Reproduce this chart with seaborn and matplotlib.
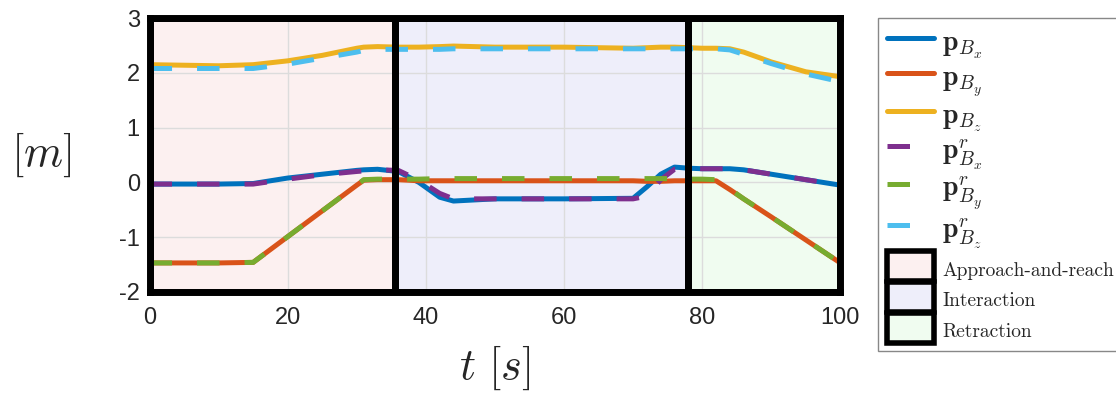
import numpy as np
import pandas as pd
import matplotlib
matplotlib.use("Agg")
import matplotlib.pyplot as plt
import matplotlib.patches as mpatches
import seaborn as sns

# time stamps [s]
t = [0, 5, 10, 15, 20, 25, 30, 31, 33, 36, 39, 42, 44, 50, 60, 70, 72, 74, 76, 78, 80, 82, 84, 86, 90, 95, 100]

# measured base position
p_bx = [-0.03, -0.03, -0.03, -0.02, 0.08, 0.15, 0.22, 0.23, 0.24, 0.20, 0.00, -0.27, -0.34, -0.30, -0.30, -0.29,
        -0.08, 0.15, 0.28, 0.26, 0.25, 0.25, 0.25, 0.23, 0.15, 0.05, -0.05]
p_by = [-1.47, -1.47, -1.47, -1.46, -0.99, -0.52, -0.05, 0.04, 0.05, 0.05, 0.03, 0.03, 0.03, 0.03, 0.03, 0.03,
        0.02, 0.02, 0.03, 0.03, 0.03, 0.03, -0.13, -0.30, -0.63, -1.05, -1.47]
p_bz = [2.15, 2.14, 2.13, 2.15, 2.22, 2.32, 2.45, 2.47, 2.48, 2.47, 2.47, 2.48, 2.49, 2.47, 2.47, 2.45,
        2.46, 2.47, 2.47, 2.46, 2.45, 2.45, 2.44, 2.38, 2.20, 2.02, 1.93]

# reference base position
p_bx_r = [-0.03, -0.03, -0.03, -0.03, 0.06, 0.14, 0.20, 0.21, 0.23, 0.22, 0.04, -0.20, -0.30, -0.30, -0.30, -0.30,
          -0.25, 0.05, 0.24, 0.26, 0.25, 0.25, 0.25, 0.23, 0.15, 0.05, -0.05]
p_by_r = [-1.47, -1.47, -1.47, -1.46, -0.99, -0.52, -0.05, 0.05, 0.06, 0.06, 0.06, 0.07, 0.07, 0.07, 0.07, 0.07,
          0.07, 0.07, 0.07, 0.06, 0.06, 0.05, -0.12, -0.30, -0.63, -1.05, -1.47]
p_bz_r = [2.08, 2.08, 2.08, 2.08, 2.16, 2.27, 2.38, 2.41, 2.43, 2.43, 2.43, 2.43, 2.44, 2.44, 2.44, 2.44,
          2.44, 2.44, 2.44, 2.44, 2.44, 2.44, 2.42, 2.34, 2.17, 1.98, 1.84]

# task phases
phase_names = ["Approach-and-reach", "Interaction", "Retraction"]
phase_bounds = [(0, 35.6), (35.6, 78.0), (78.0, 100)]
phase_colors = ["#fcf0f0", "#eeeefa", "#f0fcf0"]

DASH = (0, (4.5, 5))
series = [
    (p_bx, r"$\mathbf{p}_{B_x}$", "#0072BD", "-"),
    (p_by, r"$\mathbf{p}_{B_y}$", "#D95319", "-"),
    (p_bz, r"$\mathbf{p}_{B_z}$", "#EDB120", "-"),
    (p_bx_r, r"$\mathbf{p}^r_{B_x}$", "#7E2F8E", DASH),
    (p_by_r, r"$\mathbf{p}^r_{B_y}$", "#77AC30", DASH),
    (p_bz_r, r"$\mathbf{p}^r_{B_z}$", "#4DBEEE", DASH),
]

sns.set_style("whitegrid")
plt.rcParams["font.family"] = ["Liberation Sans", "DejaVu Sans"]
plt.rcParams["mathtext.fontset"] = "cm"
plt.rcParams["axes.unicode_minus"] = False

fig = plt.figure(figsize=(11.16, 3.94), dpi=100)
ax = fig.add_axes([0.134, 0.259, 0.619, 0.695])

for (x0, x1), c in zip(phase_bounds, phase_colors):
    ax.axvspan(x0, x1, facecolor=c, lw=0, zorder=0.1)
    ax.axvspan(x0, x1, fill=False, edgecolor="black", lw=5, zorder=4)

handles = []
for vals, lab, col, ls in series:
    sns.lineplot(x=t, y=vals, ax=ax, color=col, linewidth=3.6, linestyle=ls, label=lab, zorder=3)
for name, c in zip(phase_names, phase_colors):
    handles.append(mpatches.Patch(facecolor=c, edgecolor="black", linewidth=4, label=name))
line_handles, line_labels = ax.get_legend_handles_labels()
ax.get_legend().remove()

ax.set_xlim(0, 100)
ax.set_ylim(-2, 3)
ax.set_xticks([0, 20, 40, 60, 80, 100])
ax.set_yticks([-2, -1, 0, 1, 2, 3])
ax.set_axisbelow(True)
ax.grid(True, color="#dcdcdc", linewidth=1)
ax.tick_params(labelsize=17, direction="in", length=4, color="#999999")
ax.tick_params(axis="x", pad=11)
ax.tick_params(axis="y", pad=7)
for s in ax.spines.values():
    s.set_color("black")
    s.set_linewidth(5)

ax.set_xlabel(r"$t\ [s]$", fontsize=32)
ax.xaxis.set_label_coords(0.5, -0.19)
ax.set_ylabel(r"$[m]$", fontsize=32, rotation=0, va="center", ha="center")
ax.yaxis.set_label_coords(-0.157, 0.5)

leg = fig.legend(line_handles + handles, line_labels + [h.get_label() for h in handles],
                 loc="upper left", bbox_to_anchor=(0.787, 0.955), bbox_transform=fig.transFigure,
                 borderaxespad=0, borderpad=0.3, fontsize=20, handlelength=1.7, handleheight=1.3,
                 labelspacing=0.02, handletextpad=0.3, frameon=True, fancybox=False, framealpha=1)
leg.get_frame().set_edgecolor("#888888")
leg.get_frame().set_linewidth(1)
for txt in leg.get_texts()[6:]:
    txt.set_family(["cmr10", "DejaVu Serif"])
    txt.set_fontsize(14)

fig.savefig("out.png", dpi=100)
